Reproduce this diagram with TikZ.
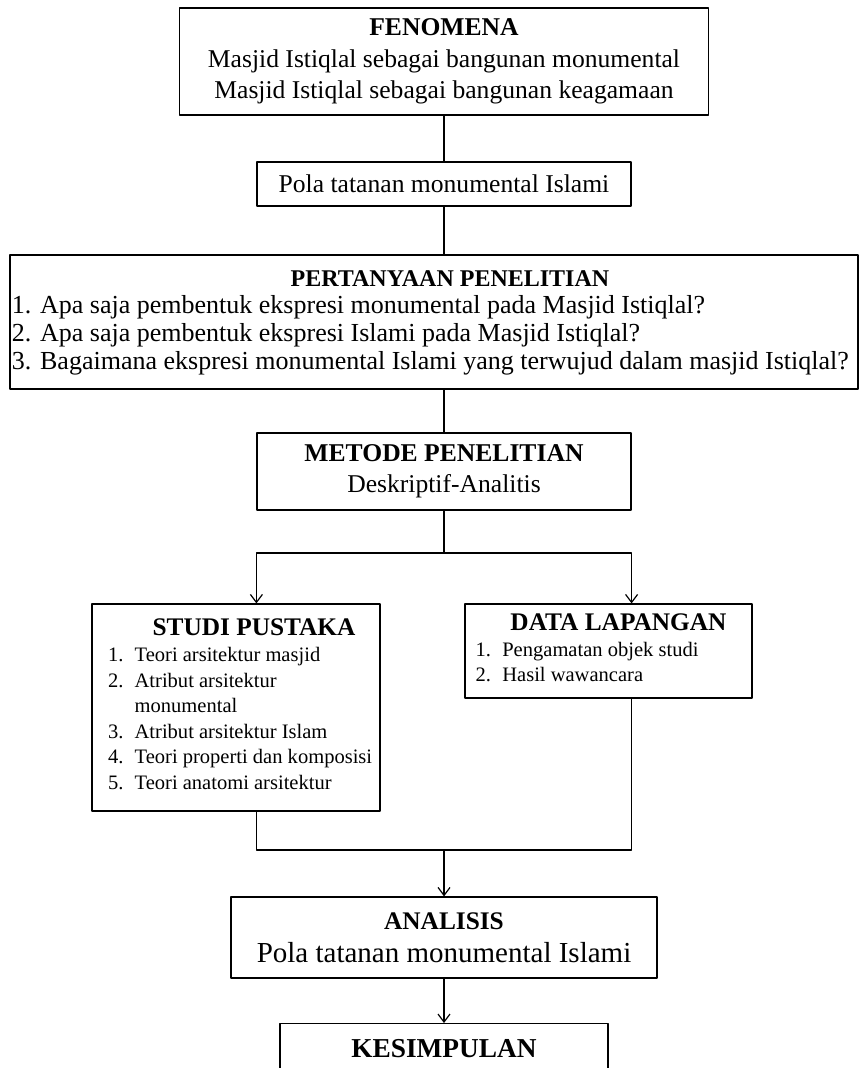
\documentclass[tikz,border=0pt]{standalone}
\usepackage{fontspec}
\setmainfont{Liberation Serif}
\usetikzlibrary{arrows.meta}

\begin{document}
\begin{tikzpicture}[x=.75pt, y=-.75pt, line cap=round, line join=round, every node/.style={inner sep=0pt}]
  \tikzset{box/.style={draw=black, line width=.9pt, align=center},
    link/.style={draw=black, line width=.9pt},
    tip/.style={link, -{Straight Barb[length=6pt, width=9pt]}},
    big/.style={font=\fontsize{19.2}{23.5}\selectfont},
    list/.style={font=\fontsize{15.4}{19.2}\selectfont}}
  \useasboundingbox (0,0) rectangle (861,1068);

  % fenomena
  \node[box, big, minimum width=396.75pt, minimum height=80.25pt] (fen) at (444,61.5)
    {\textbf{FENOMENA}\\Masjid Istiqlal sebagai bangunan monumental\\Masjid Istiqlal sebagai bangunan keagamaan};
  \node[box, big, minimum width=280.5pt, minimum height=33pt] (pola) at (444,184) {Pola tatanan monumental Islami};

  % pertanyaan
  \node[box, minimum height=100.5pt, font=\fontsize{19.5}{20.75}\selectfont] (tanya) at (434,322)
    {\begin{tabular}{@{\hspace{1.5pt}}p{634.5pt}@{}}
      \multicolumn{1}{@{\hspace{24pt}}c@{}}{\fontsize{18}{20.75}\selectfont\bfseries PERTANYAAN PENELITIAN}\\
      1. Apa saja pembentuk ekspresi monumental pada Masjid Istiqlal?\\
      2. Apa saja pembentuk ekspresi Islami pada Masjid Istiqlal?\\
      3. Bagaimana ekspresi monumental Islami yang terwujud dalam masjid Istiqlal?
    \end{tabular}};

  % metode
  \node[box, big, minimum width=280.5pt, minimum height=57.75pt] (metode) at (444,471.5) {\textbf{METODE PENELITIAN}\\Deskriptif-Analitis};

  % studi pustaka, data lapangan
  \node[box, list, minimum height=155.25pt] (studi) at (236,707.5)
    {\begin{tabular}{@{\hspace{12pt}}p{20pt}@{}p{184pt}@{}}
      \multicolumn{2}{@{\hspace{27pt}}c@{}}{\fontsize{19}{19.2}\selectfont\bfseries STUDI PUSTAKA}\\
      1. & Teori arsitektur masjid\\
      2. & Atribut arsitektur\\
         & monumental\\
      3. & Atribut arsitektur Islam\\
      4. & Teori properti dan komposisi\\
      5. & Teori anatomi arsitektur
    \end{tabular}};
  \node[box, list, minimum height=70.5pt] (data) at (608.5,651)
    {\begin{tabular}{@{\hspace{8pt}}p{20pt}@{}p{187.25pt}@{}}
      \multicolumn{2}{@{\hspace{15pt}}c@{}}{\fontsize{19}{19.2}\selectfont\bfseries DATA LAPANGAN}\\
      1. & Pengamatan objek studi\\
      2. & Hasil wawancara
    \end{tabular}};

  % analisis, kesimpulan
  \node[box, minimum width=319.5pt, minimum height=60.75pt, font=\fontsize{21.75}{24.75}\selectfont] (analisis) at (444,937.5)
    {{\fontsize{19}{24.75}\selectfont\bfseries ANALISIS}\\Pola tatanan monumental Islami};
  \node[box, anchor=north, minimum width=246pt, text height=25.5pt, text depth=50pt, font=\fontsize{20.5}{24}\selectfont\bfseries] (kes) at (444,1023) {KESIMPULAN};

  \coordinate (split) at (444,553);
  \coordinate (join) at (444,850);

  \draw[link] (fen) -- (pola);
  \draw[link] (pola) -- (pola |- tanya.north);
  \draw[link] (pola |- tanya.south) -- (metode);
  \draw[link] (metode) -- (split);
  \draw[tip] (split) -| (metode.west |- studi.north);
  \draw[tip] (split) -| (metode.east |- data.north);
  \draw[link] (metode.west |- studi.south) |- (join);
  \draw[link] (metode.east |- data.south) |- (join);
  \draw[tip] (join) -- (analisis);
  \draw[tip] (analisis) -- (kes);
\end{tikzpicture}
\end{document}
